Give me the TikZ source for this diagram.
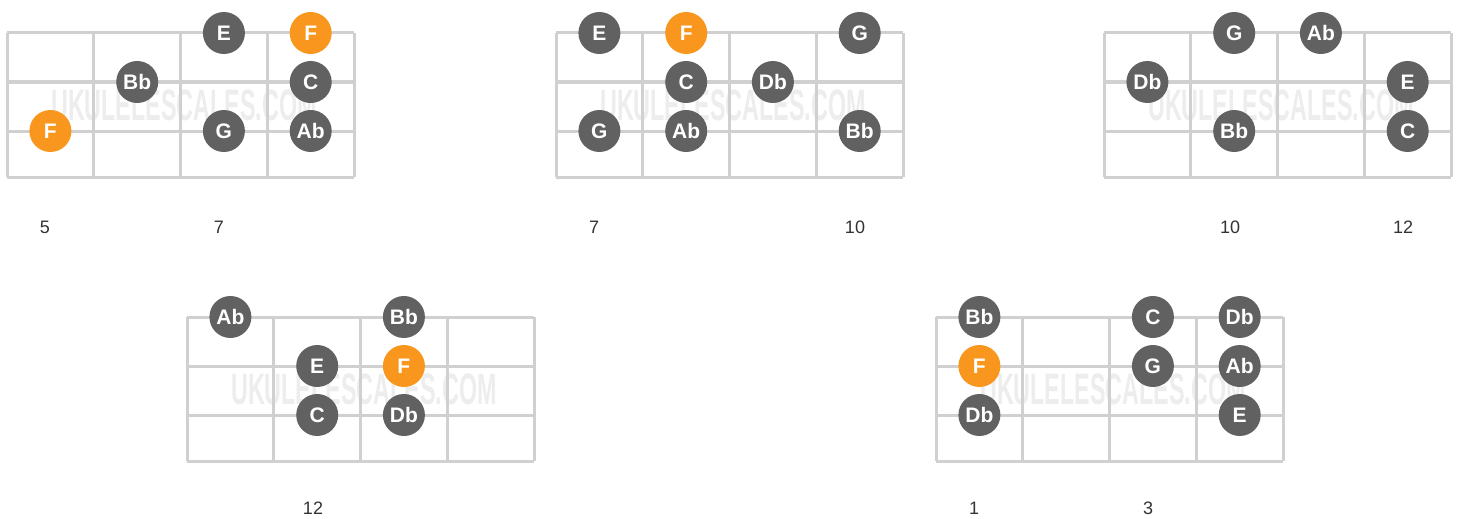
\documentclass[tikz,border=0pt]{standalone}
\usepackage{fontspec}
\setmainfont{Liberation Sans}
\definecolor{gridc}{HTML}{D0D0D0}
\definecolor{wmark}{HTML}{EDEDED}
\definecolor{notec}{HTML}{616161}
\definecolor{rootc}{HTML}{F8961E}
\definecolor{labc}{HTML}{333333}
\tikzset{
  gridline/.style={draw=gridc, line width=3pt},
  note/.style={circle, fill=notec, minimum size=42pt, inner sep=0pt, text=white, font=\bfseries\fontsize{21}{21}\selectfont},
  root/.style={note, fill=rootc},
  fretlab/.style={text=labc, font=\fontsize{18}{18}\selectfont, inner sep=0pt},
  watermark/.style={text=wmark, font=\bfseries\fontsize{44}{44}\selectfont, inner sep=0pt}
}
\newcommand{\fretgrid}[3]{%
  \node[watermark] (#3wm) at (#1+177,#2+72) {\scalebox{0.53}[1]{UKULELESCALES.COM}};
  \foreach \s in {0,49,98,144} {\draw[gridline] (#1,#2+\s) -- (#1+347,#2+\s);}
  \foreach \k in {0,1,2,3,4} {\draw[gridline] (#1+86.75*\k,#2) -- (#1+86.75*\k,#2+144);}
}
\begin{document}
\begin{tikzpicture}[x=1pt,y=-1pt]
\useasboundingbox (0,0) rectangle (1459,519);
\fill[white] (0,0) rectangle (1459,519);
% grids
\fretgrid{7}{33}{a}
\fretgrid{556}{33}{b}
\fretgrid{1104}{33}{c}
\fretgrid{187}{317}{d}
\fretgrid{936}{317}{e}
% diagram 1
\node[note] (a1) at (223.9,33) {E};
\node[root] (a2) at (310.7,33) {F};
\node[note] (a3) at (137.2,82) {Bb};
\node[note] (a4) at (310.7,82) {C};
\node[root] (a5) at (50.4,131) {F};
\node[note] (a6) at (223.9,131) {G};
\node[note] (a7) at (310.7,131) {Ab};
\node[fretlab] (al1) at (45,227) {5};
\node[fretlab] (al2) at (219,227) {7};
% diagram 2
\node[note] (b1) at (599.4,33) {E};
\node[root] (b2) at (686.2,33) {F};
\node[note] (b3) at (859.7,33) {G};
\node[note] (b4) at (686.2,82) {C};
\node[note] (b5) at (772.9,82) {Db};
\node[note] (b6) at (599.4,131) {G};
\node[note] (b7) at (686.2,131) {Ab};
\node[note] (b8) at (859.7,131) {Bb};
\node[fretlab] (bl1) at (594,227) {7};
\node[fretlab] (bl2) at (855,227) {10};
% diagram 3
\node[note] (c1) at (1234.2,33) {G};
\node[note] (c2) at (1320.9,33) {Ab};
\node[note] (c3) at (1147.4,82) {Db};
\node[note] (c4) at (1407.7,82) {E};
\node[note] (c5) at (1234.2,131) {Bb};
\node[note] (c6) at (1407.7,131) {C};
\node[fretlab] (cl1) at (1230,227) {10};
\node[fretlab] (cl2) at (1403,227) {12};
% diagram 4
\node[note] (d1) at (230.4,317) {Ab};
\node[note] (d2) at (403.9,317) {Bb};
\node[note] (d3) at (317.2,366) {E};
\node[root] (d4) at (403.9,366) {F};
\node[note] (d5) at (317.2,415) {C};
\node[note] (d6) at (403.9,415) {Db};
\node[fretlab] (dl1) at (313,508) {12};
% diagram 5
\node[note] (e1) at (979.4,317) {Bb};
\node[note] (e2) at (1152.9,317) {C};
\node[note] (e3) at (1239.7,317) {Db};
\node[root] (e4) at (979.4,366) {F};
\node[note] (e5) at (1152.9,366) {G};
\node[note] (e6) at (1239.7,366) {Ab};
\node[note] (e7) at (979.4,415) {Db};
\node[note] (e8) at (1239.7,415) {E};
\node[fretlab] (el1) at (974,508) {1};
\node[fretlab] (el2) at (1148,508) {3};
\end{tikzpicture}
\end{document}
